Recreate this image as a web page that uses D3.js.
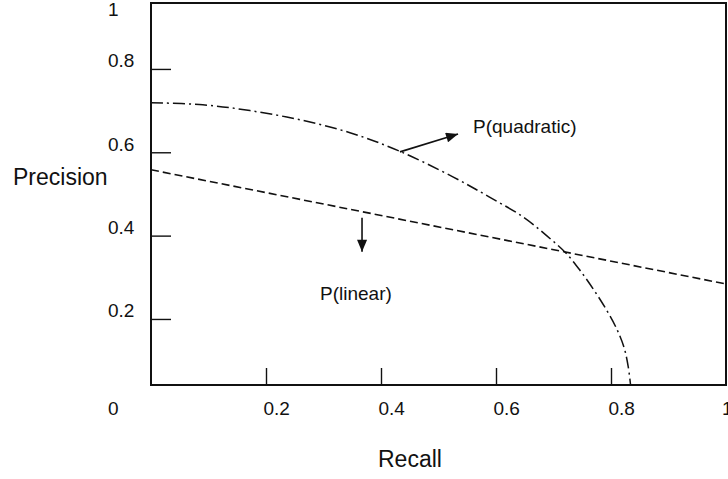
<!DOCTYPE html>
<html>
<head>
<meta charset="utf-8">
<script src="https://cdn.jsdelivr.net/npm/d3@7"></script>
<style>
  html, body { margin: 0; padding: 0; background: #fff; overflow: hidden; }
  svg { display: block; }
  text { font-family: "Liberation Sans", Arial, Helvetica, sans-serif; fill: #111; }
</style>
</head>
<body>
<svg id="chart" width="728" height="479"></svg>
<script>
// Precision / recall trade-off curves
const xTicks = [0.2, 0.4, 0.6, 0.8];
const yTicks = [0.2, 0.4, 0.6, 0.8];
const xTickLabels = ["0.2", "0.4", "0.6", "0.8"];
const yTickLabels = ["0.2", "0.4", "0.6", "0.8"];

// quadratic model: precision as recall grows
const quadRecall = [0, 0.090, 0.172, 0.259, 0.346, 0.430, 0.525, 0.588, 0.647, 0.688, 0.721, 0.747, 0.770, 0.792, 0.810, 0.823, 0.830, 0.834];
const quadPrecision = [0.719, 0.714, 0.700, 0.678, 0.647, 0.604, 0.541, 0.493, 0.445, 0.400, 0.359, 0.315, 0.270, 0.222, 0.176, 0.130, 0.085, 0.042];

// linear model
const linRecall = [0, 1];
const linPrecision = [0.558, 0.284];

const svg = d3.select("#chart");

// frame edges
const frameL = 151, frameR = 726, frameT = 3, frameB = 385;

const x = d3.scaleLinear().domain([0, 1]).range([frameL, frameR]);
const y = d3.scaleLinear().domain([0, 1]).range([402.3, -14.4]);

// arrow head
const defs = svg.append("defs");
defs.append("marker")
  .attr("id", "head")
  .attr("markerUnits", "userSpaceOnUse")
  .attr("viewBox", "0 0 12 10")
  .attr("refX", 12).attr("refY", 5)
  .attr("markerWidth", 13).attr("markerHeight", 10)
  .attr("orient", "auto")
  .append("path").attr("d", "M0,0 L12,5 L0,10 Z").attr("fill", "#111");

defs.append("clipPath").attr("id", "plot-clip")
  .append("rect").attr("x", frameL).attr("y", frameT)
  .attr("width", frameR - frameL).attr("height", frameB - frameT);

// y axis ticks, pointing inward
const yAxis = d3.axisLeft(y).tickValues(yTicks).tickSize(-20).tickPadding(0)
  .tickFormat((d, i) => yTickLabels[i]);
const gy = svg.append("g").attr("transform", `translate(${frameL},0)`).call(yAxis);
gy.select(".domain").remove();
gy.selectAll(".tick line").attr("stroke", "#111").attr("stroke-width", 1.4);
gy.selectAll(".tick text")
  .attr("text-anchor", "start").attr("x", 108 - frameL).attr("dy", null).attr("y", -2)
  .style("font-size", "19px").attr("fill", "#111");

// x axis ticks, pointing inward
const xAxis = d3.axisBottom(x).tickValues(xTicks).tickSize(-17).tickPadding(0)
  .tickFormat((d, i) => xTickLabels[i]);
const gx = svg.append("g").attr("transform", `translate(0,${frameB})`).call(xAxis);
gx.select(".domain").remove();
gx.selectAll(".tick line").attr("stroke", "#111").attr("stroke-width", 1.4);
gx.selectAll(".tick text")
  .attr("text-anchor", "start").attr("x", -3).attr("dy", null).attr("y", 415 - frameB)
  .style("font-size", "19px").attr("fill", "#111");

// corner labels
svg.append("text").attr("x", 108).attr("y", 16).style("font-size", "19px").text("1");
svg.append("text").attr("x", 108).attr("y", 415).style("font-size", "19px").text("0");
svg.append("text").attr("x", x(1) - 4).attr("y", 415).style("font-size", "19px").text("1");

// frame box
svg.append("rect")
  .attr("x", frameL).attr("y", frameT).attr("width", frameR - frameL).attr("height", frameB - frameT)
  .attr("fill", "none").attr("stroke", "#111").attr("stroke-width", 2);

const plot = svg.append("g").attr("clip-path", "url(#plot-clip)");

// linear model, dashed
plot.append("path")
  .datum(linRecall.map((r, i) => [r, linPrecision[i]]))
  .attr("d", d3.line().x(d => x(d[0])).y(d => y(d[1])))
  .attr("fill", "none").attr("stroke", "#111").attr("stroke-width", 1.6)
  .attr("stroke-dasharray", "8,4");

// quadratic model, dash-dot
plot.append("path")
  .datum(quadRecall.map((r, i) => [r, quadPrecision[i]]))
  .attr("d", d3.line().x(d => x(d[0])).y(d => y(d[1])).curve(d3.curveCatmullRom.alpha(0.5)))
  .attr("fill", "none").attr("stroke", "#111").attr("stroke-width", 1.5)
  .attr("stroke-dasharray", "12,4,2,4");

// annotation arrows
const arrows = [
  { from: [0.433, 0.601], to: [0.534, 0.644] },
  { from: [0.367, 0.443], to: [0.367, 0.361] }
];
svg.selectAll(".arrow").data(arrows).enter().append("line")
  .attr("class", "arrow")
  .attr("x1", d => x(d.from[0])).attr("y1", d => y(d.from[1]))
  .attr("x2", d => x(d.to[0])).attr("y2", d => y(d.to[1]))
  .attr("stroke", "#111").attr("stroke-width", 1.6)
  .attr("marker-end", "url(#head)");

svg.append("text").attr("x", 473).attr("y", 133).style("font-size", "19px").text("P(quadratic)");
svg.append("text").attr("x", 320).attr("y", 300).style("font-size", "19px").text("P(linear)");

// axis titles
svg.append("text").attr("x", 13).attr("y", 185).style("font-size", "23px").text("Precision");
svg.append("text").attr("x", 378).attr("y", 467).style("font-size", "23px").text("Recall");
</script>
</body>
</html>
